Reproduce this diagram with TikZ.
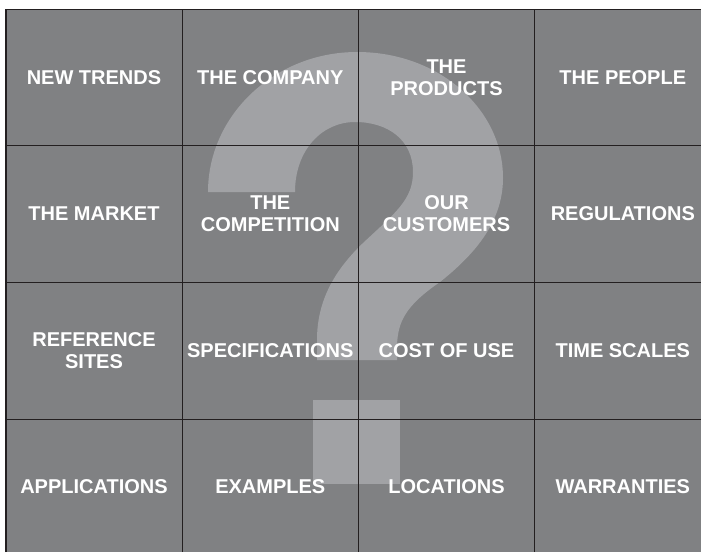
\documentclass[tikz,border=0pt]{standalone}
\usepackage{fontspec}
\setmainfont{Liberation Sans}
\definecolor{cellgrey}{RGB}{128,129,131}
\definecolor{markgrey}{RGB}{161,162,165}
\definecolor{gridline}{RGB}{35,31,32}

\begin{document}
\begin{tikzpicture}[x=1pt,y=-1pt,font=\fontsize{20}{22}\selectfont\bfseries,
  topic/.style={text=white,align=center,inner sep=0pt}]
\useasboundingbox (0,0) rectangle (701,552);
\fill[cellgrey] (6,9.3) rectangle (701,552);
% big question mark behind the grid
\fill[markgrey] (208,192) .. controls (208,115) and (275,52) .. (357,52)
  .. controls (440,52) and (503,110) .. (503,178)
  .. controls (503,225) and (470,258) .. (440,282)
  .. controls (405,306) and (398,322) .. (397,345) -- (397,360) -- (317,360) -- (317,340)
  .. controls (317,300) and (335,270) .. (363,243)
  .. controls (395,213) and (413,200) .. (413,172)
  .. controls (413,140) and (388,122) .. (355,122)
  .. controls (322,122) and (295,150) .. (295,192) -- cycle;
\fill[markgrey] (313,400) rectangle (400,484);
% grid
\draw[gridline,line width=1.2pt] (6,552) -- (6,9.3) -- (701,9.3);
\draw[gridline,line width=1pt] (182.3,9.3) -- (182.3,552);
\draw[gridline,line width=1pt] (358.3,9.3) -- (358.3,552);
\draw[gridline,line width=1pt] (534.7,9.3) -- (534.7,552);
\draw[gridline,line width=1pt] (6,145.7) -- (701,145.7);
\draw[gridline,line width=1pt] (6,282.5) -- (701,282.5);
\draw[gridline,line width=1pt] (6,419.3) -- (701,419.3);
% first row
\node[topic] (trends) at (94,77.5) {NEW TRENDS};
\node[topic] (company) at (270.3,77.5) {THE COMPANY};
\node[topic] (products) at (446.5,77.5) {THE\\PRODUCTS};
\node[topic] (people) at (622.8,77.5) {THE PEOPLE};
% second row
\node[topic] (market) at (94,214) {THE MARKET};
\node[topic] (competition) at (270.3,214) {THE\\COMPETITION};
\node[topic] (customers) at (446.5,214) {OUR\\CUSTOMERS};
\node[topic] (regulations) at (622.8,214) {REGULATIONS};
% third row
\node[topic] (sites) at (94,351) {REFERENCE\\SITES};
\node[topic] (specs) at (270.3,351) {SPECIFICATIONS};
\node[topic] (cost) at (446.5,351) {COST OF USE};
\node[topic] (timescales) at (622.8,351) {TIME SCALES};
% fourth row
\node[topic] (applications) at (94,487) {APPLICATIONS};
\node[topic] (examples) at (270.3,487) {EXAMPLES};
\node[topic] (locations) at (446.5,487) {LOCATIONS};
\node[topic] (warranties) at (622.8,487) {WARRANTIES};
\end{tikzpicture}
\end{document}
